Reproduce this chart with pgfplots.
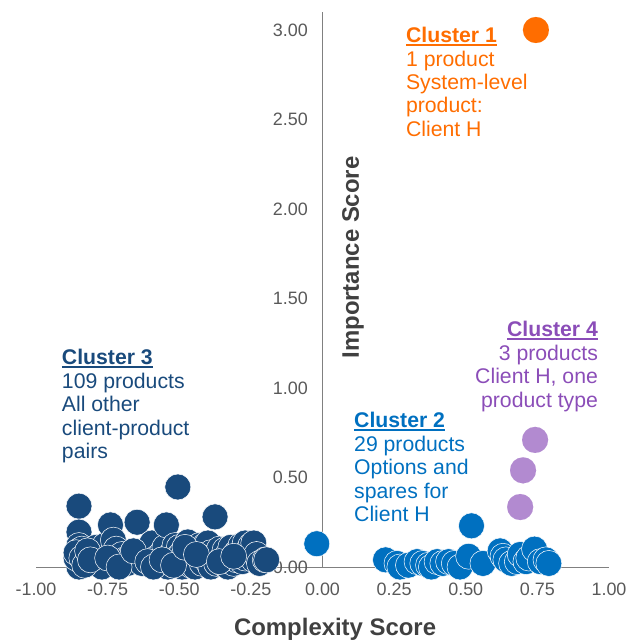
\documentclass[border=0pt]{standalone}
\usepackage{pgfplots}
\pgfplotsset{compat=1.18}
\usepackage{fontspec}
\setmainfont{Liberation Sans}
\definecolor{cthree}{HTML}{194A7C}
\definecolor{ctwo}{HTML}{0070C0}
\definecolor{cone}{HTML}{FF6D00}
\definecolor{cfour}{HTML}{B28AD0}
\definecolor{tfour}{HTML}{8B4DB8}
\definecolor{axisgray}{HTML}{808080}
\definecolor{ticklab}{HTML}{595959}
\definecolor{labgray}{HTML}{404040}
\newcommand\clhead[1]{\setbox0\hbox{\bfseries #1}\rlap{\rule[-3bp]{\wd0}{1.6bp}}\box0}
\begin{document}
\begin{tikzpicture}
\begin{axis}[
  scale only axis, width=573bp, height=554.9bp,
  xmin=-1, xmax=1, ymin=0, ymax=3.1,
  axis lines=middle,
  axis line style={-, draw=axisgray, line width=1bp},
  clip=false,
  hide obscured x ticks=false,
  hide obscured y ticks=false,
  xtick={-1,-0.75,-0.5,-0.25,0,0.25,0.5,0.75,1},
  ytick={0,0.5,1,1.5,2,2.5,3},
  major tick length=0,
  tick label style={font=\fontsize{18}{20}\selectfont, text=ticklab, inner sep=0pt},
  xticklabel style={anchor=north, yshift=-15.5bp},
  yticklabel style={anchor=east, xshift=-14.5bp},
  /pgf/number format/fixed,
  /pgf/number format/fixed zerofill,
  /pgf/number format/precision=2,
  /pgf/number format/assume math mode=true,
]
\coordinate (SW) at (axis cs:-1,0);
% Cluster 3
\addplot[only marks, mark=*, mark size=13bp, mark options={fill=cthree, draw=white, line width=0.5bp}] coordinates {
(-0.85,0.34)(-0.85,0.195)(-0.85,0.12)(-0.85,0.09)(-0.85,0.06)(-0.85,0.04)(-0.85,0.02)(-0.85,0.0)(-0.84,0.10)(-0.84,0.07)(-0.84,0.03)(-0.86,0.05)(-0.86,0.08)
(-0.79,0.11)(-0.78,0.08)(-0.78,0.03)(-0.77,0.0)(-0.80,0.06)(-0.76,0.12)
(-0.74,0.235)(-0.73,0.15)(-0.72,0.10)
(-0.70,0.07)(-0.69,0.04)(-0.68,0.02)(-0.67,0.06)
(-0.647,0.25)(-0.644,0.04)(-0.63,0.02)(-0.62,0.07)(-0.60,0.10)(-0.595,0.134)
(-0.58,0.05)(-0.57,0.02)(-0.56,0.08)(-0.55,0.11)(-0.545,0.235)(-0.543,0.05)(-0.54,0.0)(-0.53,0.03)(-0.52,0.09)(-0.515,0.12)
(-0.505,0.447)(-0.50,0.11)(-0.50,0.06)(-0.50,0.02)(-0.49,0.0)(-0.49,0.08)(-0.48,0.04)(-0.47,0.14)(-0.47,0.10)(-0.46,0.06)(-0.46,0.01)
(-0.45,0.03)(-0.44,0.04)(-0.445,0.0)(-0.44,0.09)(-0.43,0.12)(-0.43,0.06)(-0.42,0.02)(-0.42,0.10)(-0.41,0.12)(-0.41,0.05)
(-0.40,0.134)(-0.40,0.03)(-0.39,0.08)(-0.39,0.0)(-0.38,0.06)(-0.375,0.28)(-0.37,0.02)(-0.36,0.10)
(-0.35,0.05)(-0.34,0.095)(-0.34,0.01)(-0.33,0.0)(-0.33,0.07)(-0.32,0.04)(-0.32,0.11)(-0.31,0.02)
(-0.30,0.04)(-0.30,0.08)(-0.29,0.06)(-0.285,0.12)(-0.28,0.03)(-0.27,0.134)(-0.27,0.05)(-0.26,0.09)
(-0.25,0.12)(-0.24,0.134)(-0.24,0.04)(-0.23,0.07)(-0.22,0.02)(-0.20,0.04)(-0.195,0.04)
(-0.84,0.05)(-0.83,0.01)(-0.82,0.09)(-0.81,0.04)(-0.75,0.05)(-0.71,0.0)(-0.66,0.09)(-0.61,0.03)(-0.59,0.0)(-0.56,0.04)(-0.52,0.01)(-0.48,0.11)(-0.44,0.07)(-0.36,0.03)(-0.31,0.06)
};
% Cluster 2
\addplot[only marks, mark=*, mark size=13bp, mark options={fill=ctwo, draw=white, line width=0.5bp}] coordinates {
(-0.02,0.13)(0.22,0.04)(0.26,0.02)(0.27,0.0)(0.30,0.01)(0.33,0.03)(0.35,0.02)(0.37,0.01)(0.38,0.0)(0.40,0.03)(0.42,0.02)(0.44,0.03)(0.46,0.02)(0.48,0.0)(0.51,0.06)(0.52,0.23)(0.56,0.02)(0.62,0.09)(0.63,0.06)(0.64,0.04)(0.66,0.02)(0.68,0.03)(0.69,0.07)(0.71,0.03)(0.72,0.05)(0.74,0.10)(0.76,0.03)(0.78,0.04)(0.79,0.02)
};
% Cluster 4
\addplot[only marks, mark=*, mark size=13bp, mark options={fill=cfour, draw=cfour, line width=0.1bp}] coordinates {
(0.742,0.71)(0.70,0.54)(0.69,0.335)
};
% Cluster 1
\addplot[only marks, mark=*, mark size=13bp, mark options={fill=cone, draw=cone, line width=0.1bp}] coordinates {
(0.745,3.0)
};
\node[anchor=north west, align=left, inner sep=0pt, text=cone, font=\fontsize{21.3}{23.5}\selectfont] at (axis cs:0.291,3.016)
  {\clhead{Cluster 1}\\1 product\\System-level\\product:\\Client H};
\node[anchor=north east, align=right, inner sep=0pt, text=tfour, font=\fontsize{21.3}{23.5}\selectfont] at (axis cs:0.962,1.372)
  {\clhead{Cluster 4}\\3 products\\Client H, one\\product type};
\node[anchor=north west, align=left, inner sep=0pt, text=ctwo, font=\fontsize{21.3}{23.5}\selectfont] at (axis cs:0.110,0.864)
  {\clhead{Cluster 2}\\29 products\\Options and\\spares for\\Client H};
\node[anchor=north west, align=left, inner sep=0pt, text=cthree, font=\fontsize{21.3}{23.5}\selectfont] at (axis cs:-0.910,1.216)
  {\clhead{Cluster 3}\\109 products\\All other\\client-product\\pairs};
\node[anchor=base, text=labgray, font=\fontsize{24}{28}\selectfont\bfseries] at (axis cs:0.044,-0.385) {Complexity Score};
\node[anchor=base, rotate=90, text=labgray, font=\fontsize{24}{28}\selectfont\bfseries] at (axis cs:0.127,1.729) {Importance Score};
\end{axis}
\pgfresetboundingbox
\path (SW) ++(-36bp,-75bp) rectangle ++(639bp,642bp);
\end{tikzpicture}
\end{document}
